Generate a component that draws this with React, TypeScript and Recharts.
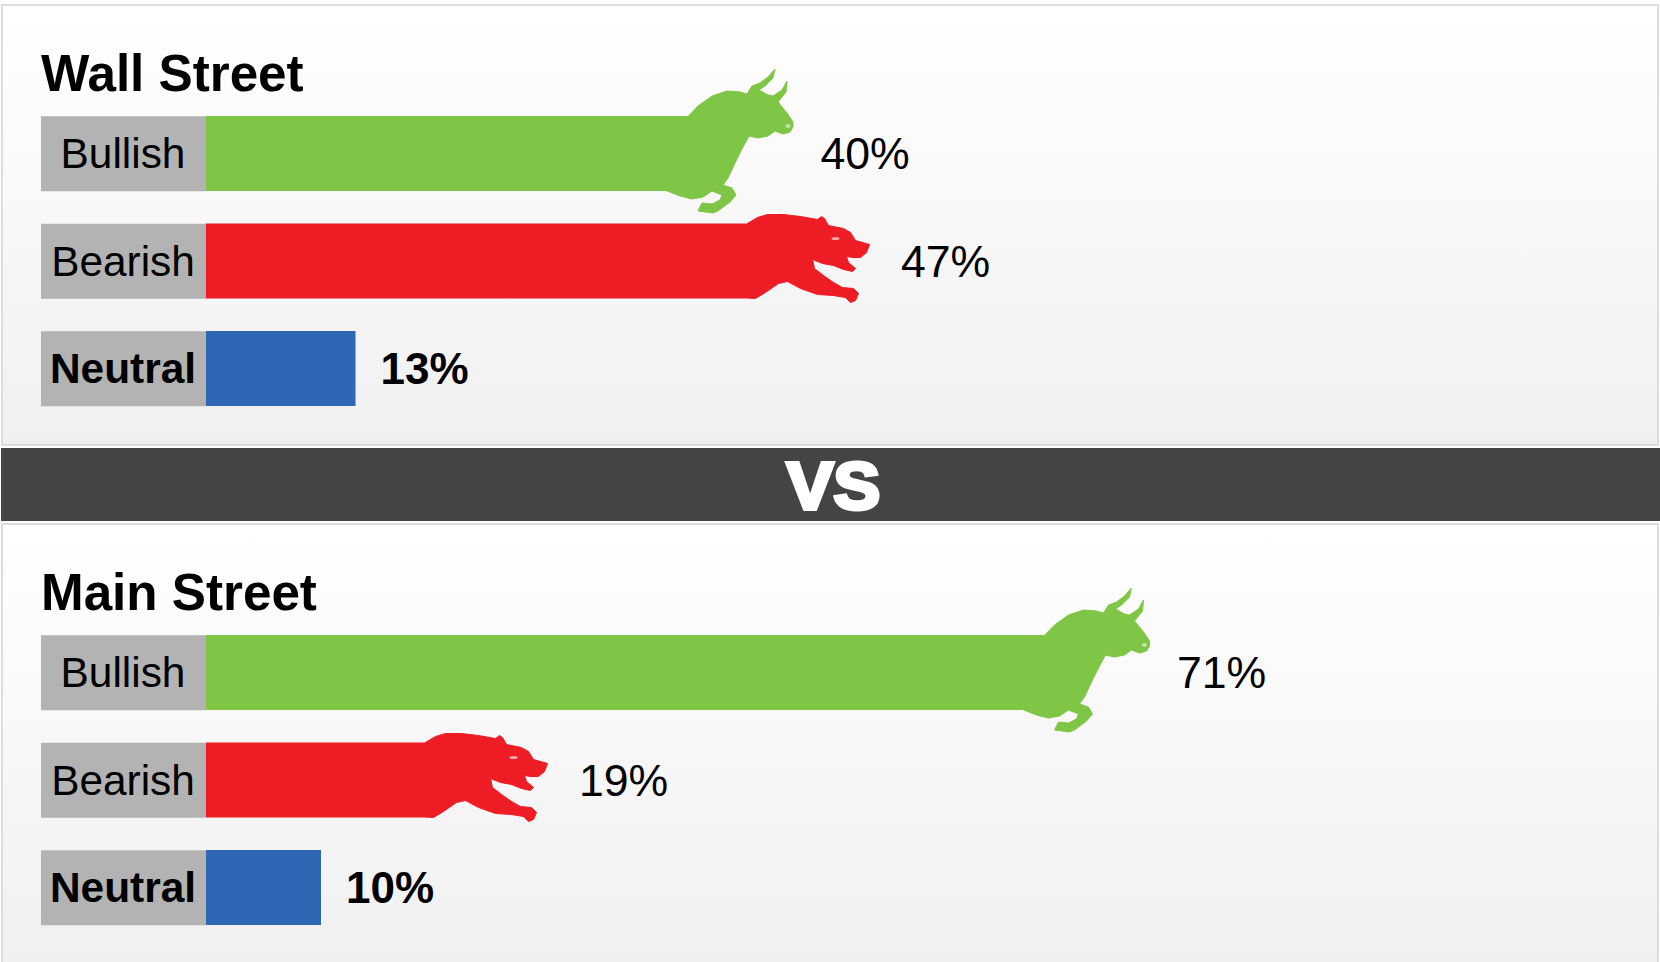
import { BarChart, Bar, XAxis, YAxis, LabelList } from "recharts";

const categories = ["Bullish", "Bearish", "Neutral"];
const wallStreetValues = [40, 47, 13];
const mainStreetValues = [71, 19, 10];

const FONT = '"Liberation Sans", Arial, sans-serif';
const COLORS: Record<string, string> = {
  Bullish: "#7fc646",
  Bearish: "#ee1c25",
  Neutral: "#2e68b5",
};

// animal heads, outline relative to the end of the bar
const BULL_HEAD =
  "M0 0.5 L22 0.5 L32 -10 L46 -20 L61 -25 L74 -24 L81 -22 L86 -30 L94 -33 L102 -39 L109 -47 L107 -38 L99 -30 L93 -26 L102 -21 L107 -20 L116 -26 L121 -35 L120 -24 L112 -14 L121 -3 L127 6 L127 11 L124 16 L117 18 L109 15 L102 20 L92 22 L83 20 L77 31 L69 47 L62 62 L57 69 L66 72 L70 79 L64 86 L52 95 L47 97 L32 95 L36 87 L46 88 L54 84 L56 79 L46 75 L37 81 L26 83 L14 80 L0 74.5 Z";
const BEAR_HEAD =
  "M0 0.5 L11 -6 L21 -9 L37 -9 L54 -7 L71 -4 L75 -7 L78 -5 L82 2 L97 5 L104 9 L109 17 L123 21 L120 29 L114 34 L106 34 L100 33 L102 39 L109 45 L106 48 L97 46 L87 42 L76 40 L66 36 L68 45 L77 52 L87 59 L96 64 L107 65 L112 70 L109 77 L104 79 L99 74 L87 72 L71 71 L54 65 L41 58 L32 60 L19 69 L9 75 L0 74.5 Z";

function makeRows(values: number[]) {
  return categories.map((category, i) => ({ category, value: values[i] }));
}

function LabelTick({ x, y, payload }: any) {
  const neutral = payload.value === "Neutral";
  return (
    <g>
      <rect x={x - 165} y={y - 37.5} width={165} height={75} fill="#b3b3b3" />
      <text
        x={x - 83}
        y={y + 14.5}
        textAnchor="middle"
        fontFamily={FONT}
        fontSize={42.4}
        fontWeight={neutral ? 700 : 400}
        fill="#000"
      >
        {payload.value}
      </text>
    </g>
  );
}

function AnimalBar({ x, y, width, height, payload }: any) {
  const color = COLORS[payload.category];
  const end = x + width;
  return (
    <g>
      <rect x={x} y={y} width={width} height={height} fill={color} />
      {payload.category === "Bullish" && (
        <g transform={`translate(${end},${y})`}>
          <path d={BULL_HEAD} fill={color} stroke={color} strokeLinejoin="round" />
          <ellipse cx={122} cy={10} rx={2.5} ry={2} fill="#c5e3ae" />
        </g>
      )}
      {payload.category === "Bearish" && (
        <g transform={`translate(${end},${y})`}>
          <path d={BEAR_HEAD} fill={color} stroke={color} strokeLinejoin="round" />
          <ellipse cx={89} cy={15} rx={4} ry={1.5} fill="#f7a8ab" />
        </g>
      )}
    </g>
  );
}

function ValueLabel({ x, y, width, height, index, value }: any) {
  const neutral = categories[index] === "Neutral";
  return (
    <text
      x={x + width + (neutral ? 25 : 154.5)}
      y={y + height / 2 + 15.5}
      fontFamily={FONT}
      fontSize={neutral ? 44 : 44.6}
      fontWeight={neutral ? 700 : 400}
      fill="#000"
    >
      {value}%
    </text>
  );
}

function Panel({ title, values, top, height, titleTop }: any) {
  return (
    <div
      style={{
        position: "absolute",
        left: 1,
        top,
        width: 1658,
        height,
        boxSizing: "border-box",
        border: "2px solid #dddddd",
        borderBottomWidth: top > 100 ? 0 : 2,
        background: "linear-gradient(#ffffff, #f0f0f0)",
      }}
    >
      <div
        style={{
          position: "absolute",
          left: 38,
          top: titleTop,
          fontFamily: FONT,
          fontSize: 51.2,
          lineHeight: "60px",
          fontWeight: 700,
          color: "#000",
        }}
      >
        {title}
      </div>
      <div style={{ position: "absolute", left: -3, top: -6 }}>
        <BarChart
          layout="vertical"
          width={1660}
          height={442}
          data={makeRows(values)}
          margin={{ top: 100, right: 304, bottom: 19.5, left: 41 }}
          barCategoryGap={32.5}
        >
          <XAxis type="number" domain={[0, 100]} hide />
          <YAxis
            type="category"
            dataKey="category"
            width={165}
            tick={LabelTick}
            tickSize={0}
            tickMargin={0}
            axisLine={false}
            tickLine={false}
            interval={0}
          />
          <Bar dataKey="value" barSize={75} shape={AnimalBar} isAnimationActive={false}>
            <LabelList dataKey="value" content={ValueLabel} />
          </Bar>
        </BarChart>
      </div>
    </div>
  );
}

export default function App() {
  return (
    <div style={{ position: "absolute", left: 0, top: 0, width: 1660, height: 962, background: "#fff", overflow: "hidden" }}>
      <Panel title="Wall Street" values={wallStreetValues} top={4} height={442} titleTop={37.5} />
      <div
        style={{
          position: "absolute",
          left: 1,
          top: 448,
          width: 1659,
          height: 73,
          background: "#444444",
          color: "#fff",
          textAlign: "center",
          fontFamily: FONT,
          fontWeight: 700,
          fontSize: 66,
          lineHeight: "77px",
          WebkitTextStroke: "4px #fff",
        }}
      >
        <span style={{ display: "inline-block", transform: "translateX(3.5px) scaleX(1.06)" }}>VS</span>
      </div>
      <Panel title="Main Street" values={mainStreetValues} top={523} height={439} titleTop={38} />
    </div>
  );
}
